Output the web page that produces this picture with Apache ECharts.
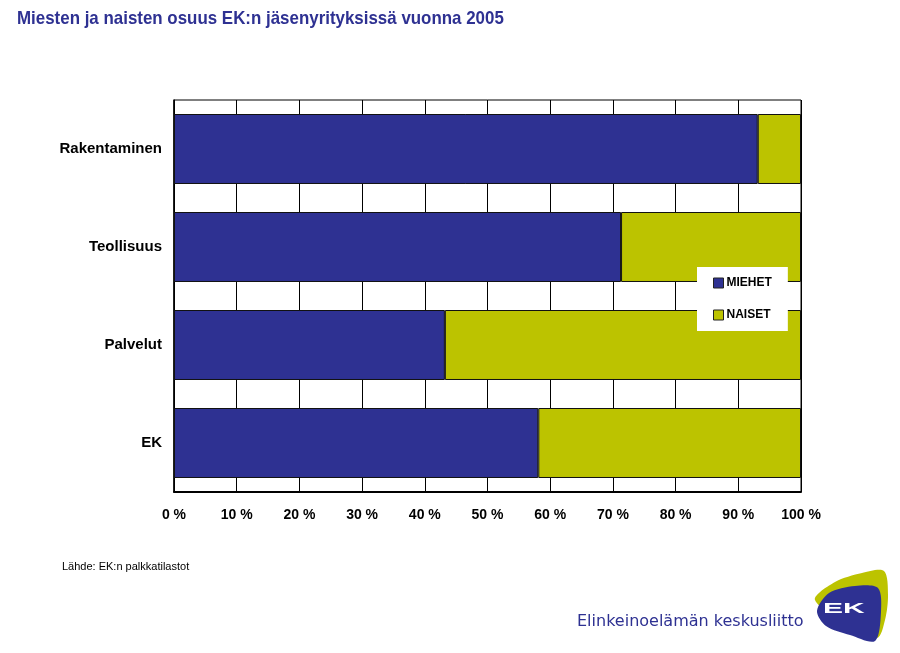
<!DOCTYPE html>
<html>
<head>
<meta charset="utf-8">
<script src="https://cdn.jsdelivr.net/npm/echarts@6/dist/echarts.min.js"></script>
<style>html,body{margin:0;padding:0;background:#fff}#c{width:900px;height:653px}</style>
</head>
<body>
<div id="c"></div>
<script>
const categories = ['Rakentaminen', 'Teollisuus', 'Palvelut', 'EK'];
const miehet = [93.1, 71.3, 43.2, 58.1];
const naiset = [6.9, 28.7, 56.8, 41.9];
const xTicks = [0, 10, 20, 30, 40, 50, 60, 70, 80, 90, 100];
const seriesNames = ['MIEHET', 'NAISET'];

const NAVY = '#2e3192';
const GREEN = '#bcc300';
const FONT = '"Liberation Sans", Arial, sans-serif';

const chart = echarts.init(document.getElementById('c'), null, {renderer: 'canvas'});
chart.setOption({
  backgroundColor: '#fff',
  animation: false,
  legend: {
    orient: 'vertical',
    left: 697, top: 267,
    padding: [10, 16, 10, 16],
    backgroundColor: '#fff',
    itemWidth: 10, itemHeight: 10, itemGap: 20,
    icon: 'rect',
    itemStyle: {borderColor: '#222', borderWidth: 1},
    textStyle: {fontSize: 12, fontWeight: 'bold', color: '#000', fontFamily: FONT, padding: [0, 0, 0, -2]},
    data: seriesNames
  },
  grid: {
    left: 174, right: 99, top: 100, bottom: 161,
    show: true, borderColor: '#000', borderWidth: 1
  },
  xAxis: {
    type: 'value', min: 0, max: 100, interval: 10,
    axisLine: {show: true, lineStyle: {color: '#000', width: 2}},
    axisTick: {show: false},
    splitLine: {show: true, lineStyle: {color: '#000', width: 1}},
    axisLabel: {
      margin: 16, fontSize: 14, fontWeight: 'bold', color: '#000', fontFamily: FONT,
      formatter: v => xTicks.includes(v) ? v + ' %' : ''
    }
  },
  yAxis: {
    type: 'category', inverse: true, data: categories,
    axisLine: {show: true, lineStyle: {color: '#000', width: 1.5}},
    axisTick: {show: false},
    axisLabel: {margin: 12, fontSize: 15, fontWeight: 'bold', color: '#000', fontFamily: FONT}
  },
  series: [
    {
      name: seriesNames[0], type: 'bar', stack: 'a', data: miehet,
      barCategoryGap: '28.6%',
      itemStyle: {color: NAVY, borderColor: '#111', borderWidth: 1}
    },
    {
      name: seriesNames[1], type: 'bar', stack: 'a', data: naiset,
      barCategoryGap: '28.6%',
      itemStyle: {color: GREEN, borderColor: '#111', borderWidth: 1}
    }
  ],
  graphic: [
    {type: 'text', x: 17, y: 9, scaleX: 0.89, style: {text: 'Miesten ja naisten osuus EK:n jäsenyrityksissä vuonna 2005', fontSize: 19, fontWeight: 'bold', fill: NAVY, fontFamily: FONT}},
    {type: 'text', x: 62, y: 561, style: {text: 'Lähde: EK:n palkkatilastot', fontSize: 11, fill: '#000', fontFamily: FONT}},
    {type: 'text', x: 577, y: 614, style: {text: 'Elinkeinoelämän keskusliitto', fontSize: 16, fill: NAVY, fontFamily: '"DejaVu Sans", sans-serif'}},
    {type: 'polygon', shape: {points: [[815, 600], [835, 582], [862, 573], [884, 571], [888, 595], [885, 620], [877, 638], [850, 625]], smooth: 0.3}, style: {fill: GREEN}},
    {type: 'polygon', shape: {points: [[817, 611], [829, 593], [855, 586], [878, 588], [881, 612], [875, 641], [850, 635], [826, 626]], smooth: 0.3}, style: {fill: NAVY}},
    {type: 'text', x: 823, y: 601, scaleX: 2.0, style: {text: 'EK', fontSize: 15, fontWeight: 'bold', fill: '#fff', fontFamily: FONT}}
  ]
});
</script>
</body>
</html>
